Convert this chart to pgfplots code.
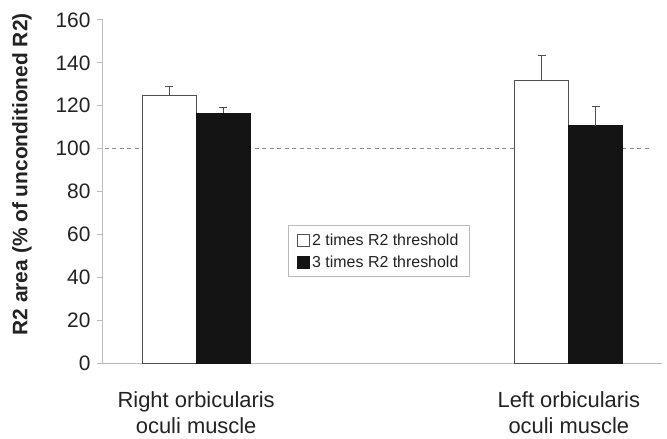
\documentclass[border=0pt]{standalone}
\usepackage{fontspec}
\setmainfont{Liberation Sans}
\usepackage{pgfplots}
\pgfplotsset{compat=1.18}
\definecolor{axgray}{HTML}{BBBBBB}
\definecolor{txt}{HTML}{222222}
\definecolor{barblack}{HTML}{141414}
\definecolor{edge}{HTML}{505050}
\definecolor{refline}{HTML}{8A8A8A}
\begin{document}
\begin{tikzpicture}
\useasboundingbox (-103bp,-76bp) rectangle (564bp,363bp);
\begin{axis}[
  at={(0bp,0bp)}, anchor=south west,
  width=559bp, height=343bp, scale only axis,
  xmin=-0.25, xmax=1.25, ymin=0, ymax=160,
  ytick={0,20,...,160},
  xtick={0,1},
  xticklabels={{Right orbicularis\\oculi muscle},{Left orbicularis\\oculi muscle}},
  axis x line*=bottom, axis y line*=left,
  axis line style={axgray, line width=1bp},
  tick align=outside,
  major tick length=6bp,
  ytick style={axgray, line width=1bp},
  xtick style={draw=none},
  /pgf/number format/assume math mode=true,
  yticklabel style={font=\fontsize{21}{25}\selectfont, text=txt, xshift=-3bp},
  xticklabel style={font=\fontsize{22}{26}\selectfont, text=txt, align=center, yshift=-19bp},
  ylabel={R2 area (\% of unconditioned R2)},
  every axis y label/.style={at={(axis description cs:-0.145,0.55)}, rotate=90, anchor=center,
    font=\bfseries\fontsize{21}{25}\selectfont, text=txt},
  ybar=0pt, bar width=0.145,
  legend cell align=left,
  legend image code/.code={\draw[#1, line width=0.8bp] (0bp,-6bp) rectangle (12bp,6bp);},
  legend style={at={(axis description cs:0.331,0.402)}, anchor=north west,
    draw=axgray, line width=0.8bp, font=\fontsize{16}{19}\selectfont, text=txt,
    inner xsep=9bp, inner ysep=6bp, row sep=5bp},
  clip=false,
]
\draw[refline, line width=1.2bp, dash pattern=on 4bp off 3.5bp] (axis cs:-0.245,100) -- (axis cs:1.22,100);
\addplot[fill=white, draw=edge, line width=1bp,
  error bars/.cd, y dir=plus, y explicit,
  error bar style={edge, line width=1.2bp},
  error mark options={rotate=90, mark size=4bp, edge, line width=1.2bp},
  ]
  coordinates {(0,124.7) +- (0,4.3) (1,131.9) +- (0,11.4)};
\addlegendentry{2 times R2 threshold}
\addplot[fill=barblack, draw=barblack, line width=1bp,
  error bars/.cd, y dir=plus, y explicit,
  error bar style={edge, line width=1.2bp},
  error mark options={rotate=90, mark size=4bp, edge, line width=1.2bp},
  ]
  coordinates {(0,116.6) +- (0,2.6) (1,110.7) +- (0,8.8)};
\addlegendentry{3 times R2 threshold}
\end{axis}
\end{tikzpicture}
\end{document}
